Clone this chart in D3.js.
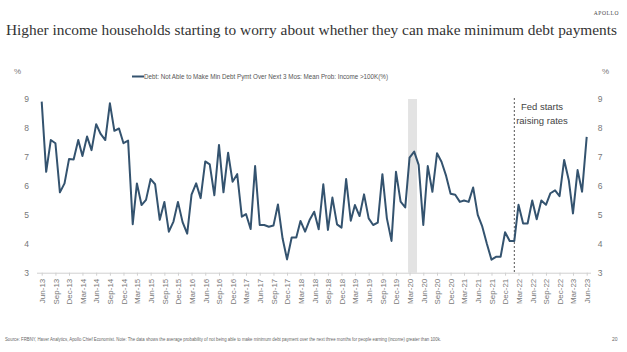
<!DOCTYPE html>
<html>
<head>
<meta charset="utf-8">
<script src="https://cdn.jsdelivr.net/npm/d3@7"></script>
<style>
  body { margin: 0; background: #fff; }
  svg { display: block; }
</style>
</head>
<body>
<div id="chart"></div>
<script>
// monthly series, Jun-13 .. Jun-23
var startMonth = new Date(2013, 5, 1),
    endMonth = new Date(2023, 5, 1);

var months = d3.timeMonth.range(startMonth, d3.timeMonth.offset(endMonth, 1));

var incomeOver100k = [
  8.92, 6.49, 7.59, 7.48, 5.78, 6.09, 6.93, 6.92, 7.59, 7.04, 7.71, 7.24,
  8.14, 7.80, 7.59, 8.86, 7.91, 7.99, 7.48, 7.57, 4.68, 6.09, 5.34, 5.52,
  6.24, 6.06, 4.83, 5.45, 4.42, 4.77, 5.45, 4.75, 4.35, 5.70, 6.09, 5.58,
  6.85, 6.75, 5.68, 7.42, 5.78, 7.15, 6.15, 6.41, 4.94, 5.03, 4.51, 6.69,
  4.65, 4.65, 4.59, 4.63, 5.36, 4.19, 3.46, 4.22, 4.22, 4.79, 4.42, 4.82,
  5.11, 4.50, 6.06, 4.48, 5.60, 4.67, 4.56, 6.24, 4.80, 5.34, 4.96, 5.71,
  4.88, 4.65, 4.73, 6.41, 4.88, 4.10, 6.49, 5.46, 5.26, 6.98, 7.19, 6.73,
  4.65, 6.69, 5.80, 7.13, 6.84, 6.35, 5.73, 5.70, 5.45, 5.50, 5.45, 5.95,
  5.00, 4.60, 4.00, 3.45, 3.55, 3.55, 4.40, 4.10, 4.10, 5.35, 4.70, 4.70,
  5.50, 4.85, 5.50, 5.35, 5.75, 5.85, 5.65, 6.90, 6.20, 5.05, 6.55, 5.80,
  7.70
];

var yTicks = [3, 4, 5, 6, 7, 8, 9];

// quarterly tick months: Jun-13, Sep-13, ... Jun-23
var xTicks = months.filter(function(d, i) { return i % 3 === 0; });

// recession shading and fed hike marker
var recession = [new Date(2020, 1, 20), new Date(2020, 3, 20)];
var fedHike = new Date(2022, 1, 1);

var titleText = "Higher income households starting to worry about whether they can make minimum debt payments",
    legendText = "Debt: Not Able to Make Min Debt Pymt Over Next 3 Mos: Mean Prob: Income >100K(%)",
    noteText = "Source: FRBNY, Haver Analytics, Apollo Chief Economist. Note: The data shows the average probability of not being able to make minimum debt payment over the next three months for people earning (income) greater than 100k.";

var w = 627,
    h = 352,
    lineColor = "#34536f",
    sans = "'Liberation Sans', Arial, sans-serif",
    serif = "'Liberation Serif', 'Times New Roman', serif";

var data = months.map(function(d, i) { return {date: d, value: incomeOver100k[i]}; });

var svg = d3.select("#chart")
    .append("svg")
    .attr("width", w)
    .attr("height", h)
    .style("background-color", "white");

var x = d3.scaleTime()
    .domain([startMonth, endMonth])
    .range([41.7, 586.7]);

var y = d3.scaleLinear()
    .domain([3, 9])
    .range([272.7, 99.3]);

// header
svg.append("text")
    .attr("x", 619).attr("y", 15)
    .attr("text-anchor", "end")
    .style("font-family", serif)
    .style("font-size", "5.5px")
    .style("letter-spacing", "0.6px")
    .attr("fill", "#444")
    .text("APOLLO");

svg.append("text")
    .attr("x", 6).attr("y", 35)
    .attr("textLength", 611)
    .attr("lengthAdjust", "spacingAndGlyphs")
    .style("font-family", serif)
    .style("font-size", "15.5px")
    .attr("fill", "#333")
    .text(titleText);

// % unit labels
svg.append("text").attr("x", 14).attr("y", 74)
    .style("font-family", sans).style("font-size", "8px").attr("fill", "#777").text("%");
svg.append("text").attr("x", 602).attr("y", 74)
    .style("font-family", sans).style("font-size", "8px").attr("fill", "#777").text("%");

// legend
svg.append("line")
    .attr("x1", 132).attr("x2", 144)
    .attr("y1", 76.5).attr("y2", 76.5)
    .attr("stroke", lineColor)
    .attr("stroke-width", 2);
svg.append("text")
    .attr("x", 144).attr("y", 79)
    .attr("textLength", 244)
    .attr("lengthAdjust", "spacingAndGlyphs")
    .style("font-family", sans)
    .style("font-size", "7.5px")
    .attr("fill", "#555")
    .text(legendText);

// shading
svg.append("rect")
    .attr("x", x(recession[0]))
    .attr("y", 99)
    .attr("width", x(recession[1]) - x(recession[0]))
    .attr("height", y(3) - 99)
    .attr("fill", "#e3e3e3");

// x axis
var xAxis = d3.axisBottom(x)
    .tickValues(xTicks)
    .tickFormat(d3.timeFormat("%b-%y"))
    .tickSizeOuter(0)
    .tickSize(3);

var gx = svg.append("g")
    .attr("transform", "translate(0," + y(3) + ")")
    .call(xAxis);
gx.select(".domain").attr("stroke", "#d0d0d0").attr("d", "M37,0.5H591");
gx.selectAll(".tick line").attr("stroke", "#d0d0d0");
gx.selectAll(".tick text")
    .attr("transform", "rotate(-90)")
    .attr("x", -6).attr("y", 0).attr("dy", "0.35em")
    .attr("text-anchor", "end")
    .style("font-family", sans)
    .style("font-size", "8px")
    .attr("fill", "#777");

// y labels, both sides
svg.append("g").selectAll("text")
    .data(yTicks).enter()
    .append("text")
    .attr("x", 26.5).attr("y", function(d) { return y(d); })
    .attr("dy", "0.35em")
    .attr("text-anchor", "middle")
    .style("font-family", sans).style("font-size", "8.5px").attr("fill", "#777")
    .text(function(d) { return d; });

svg.append("g").selectAll("text")
    .data(yTicks).enter()
    .append("text")
    .attr("x", 600).attr("y", function(d) { return y(d); })
    .attr("dy", "0.35em")
    .attr("text-anchor", "middle")
    .style("font-family", sans).style("font-size", "8.5px").attr("fill", "#777")
    .text(function(d) { return d; });

// fed marker
svg.append("line")
    .attr("x1", x(fedHike)).attr("x2", x(fedHike))
    .attr("y1", 98).attr("y2", y(3))
    .attr("stroke", "#555")
    .attr("stroke-width", 1)
    .attr("stroke-dasharray", "2,2");

svg.append("text")
    .attr("x", 542).attr("y", 110)
    .attr("text-anchor", "middle")
    .style("font-family", sans).style("font-size", "9.5px").attr("fill", "#444")
    .text("Fed starts");
svg.append("text")
    .attr("x", 542).attr("y", 123.5)
    .attr("text-anchor", "middle")
    .style("font-family", sans).style("font-size", "9.5px").attr("fill", "#444")
    .text("raising rates");

// series
var line = d3.line()
    .x(function(d) { return x(d.date); })
    .y(function(d) { return y(d.value); });

svg.append("path")
    .datum(data)
    .attr("d", line)
    .attr("fill", "none")
    .attr("stroke", lineColor)
    .attr("stroke-width", 2)
    .attr("stroke-linejoin", "round");

// footer
svg.append("text")
    .attr("x", 5).attr("y", 341)
    .attr("textLength", 436)
    .attr("lengthAdjust", "spacingAndGlyphs")
    .style("font-family", sans).style("font-size", "4.5px").attr("fill", "#666")
    .text(noteText);
svg.append("text")
    .attr("x", 612).attr("y", 341)
    .style("font-family", sans).style("font-size", "5px").attr("fill", "#666")
    .text("20");
</script>
</body>
</html>
